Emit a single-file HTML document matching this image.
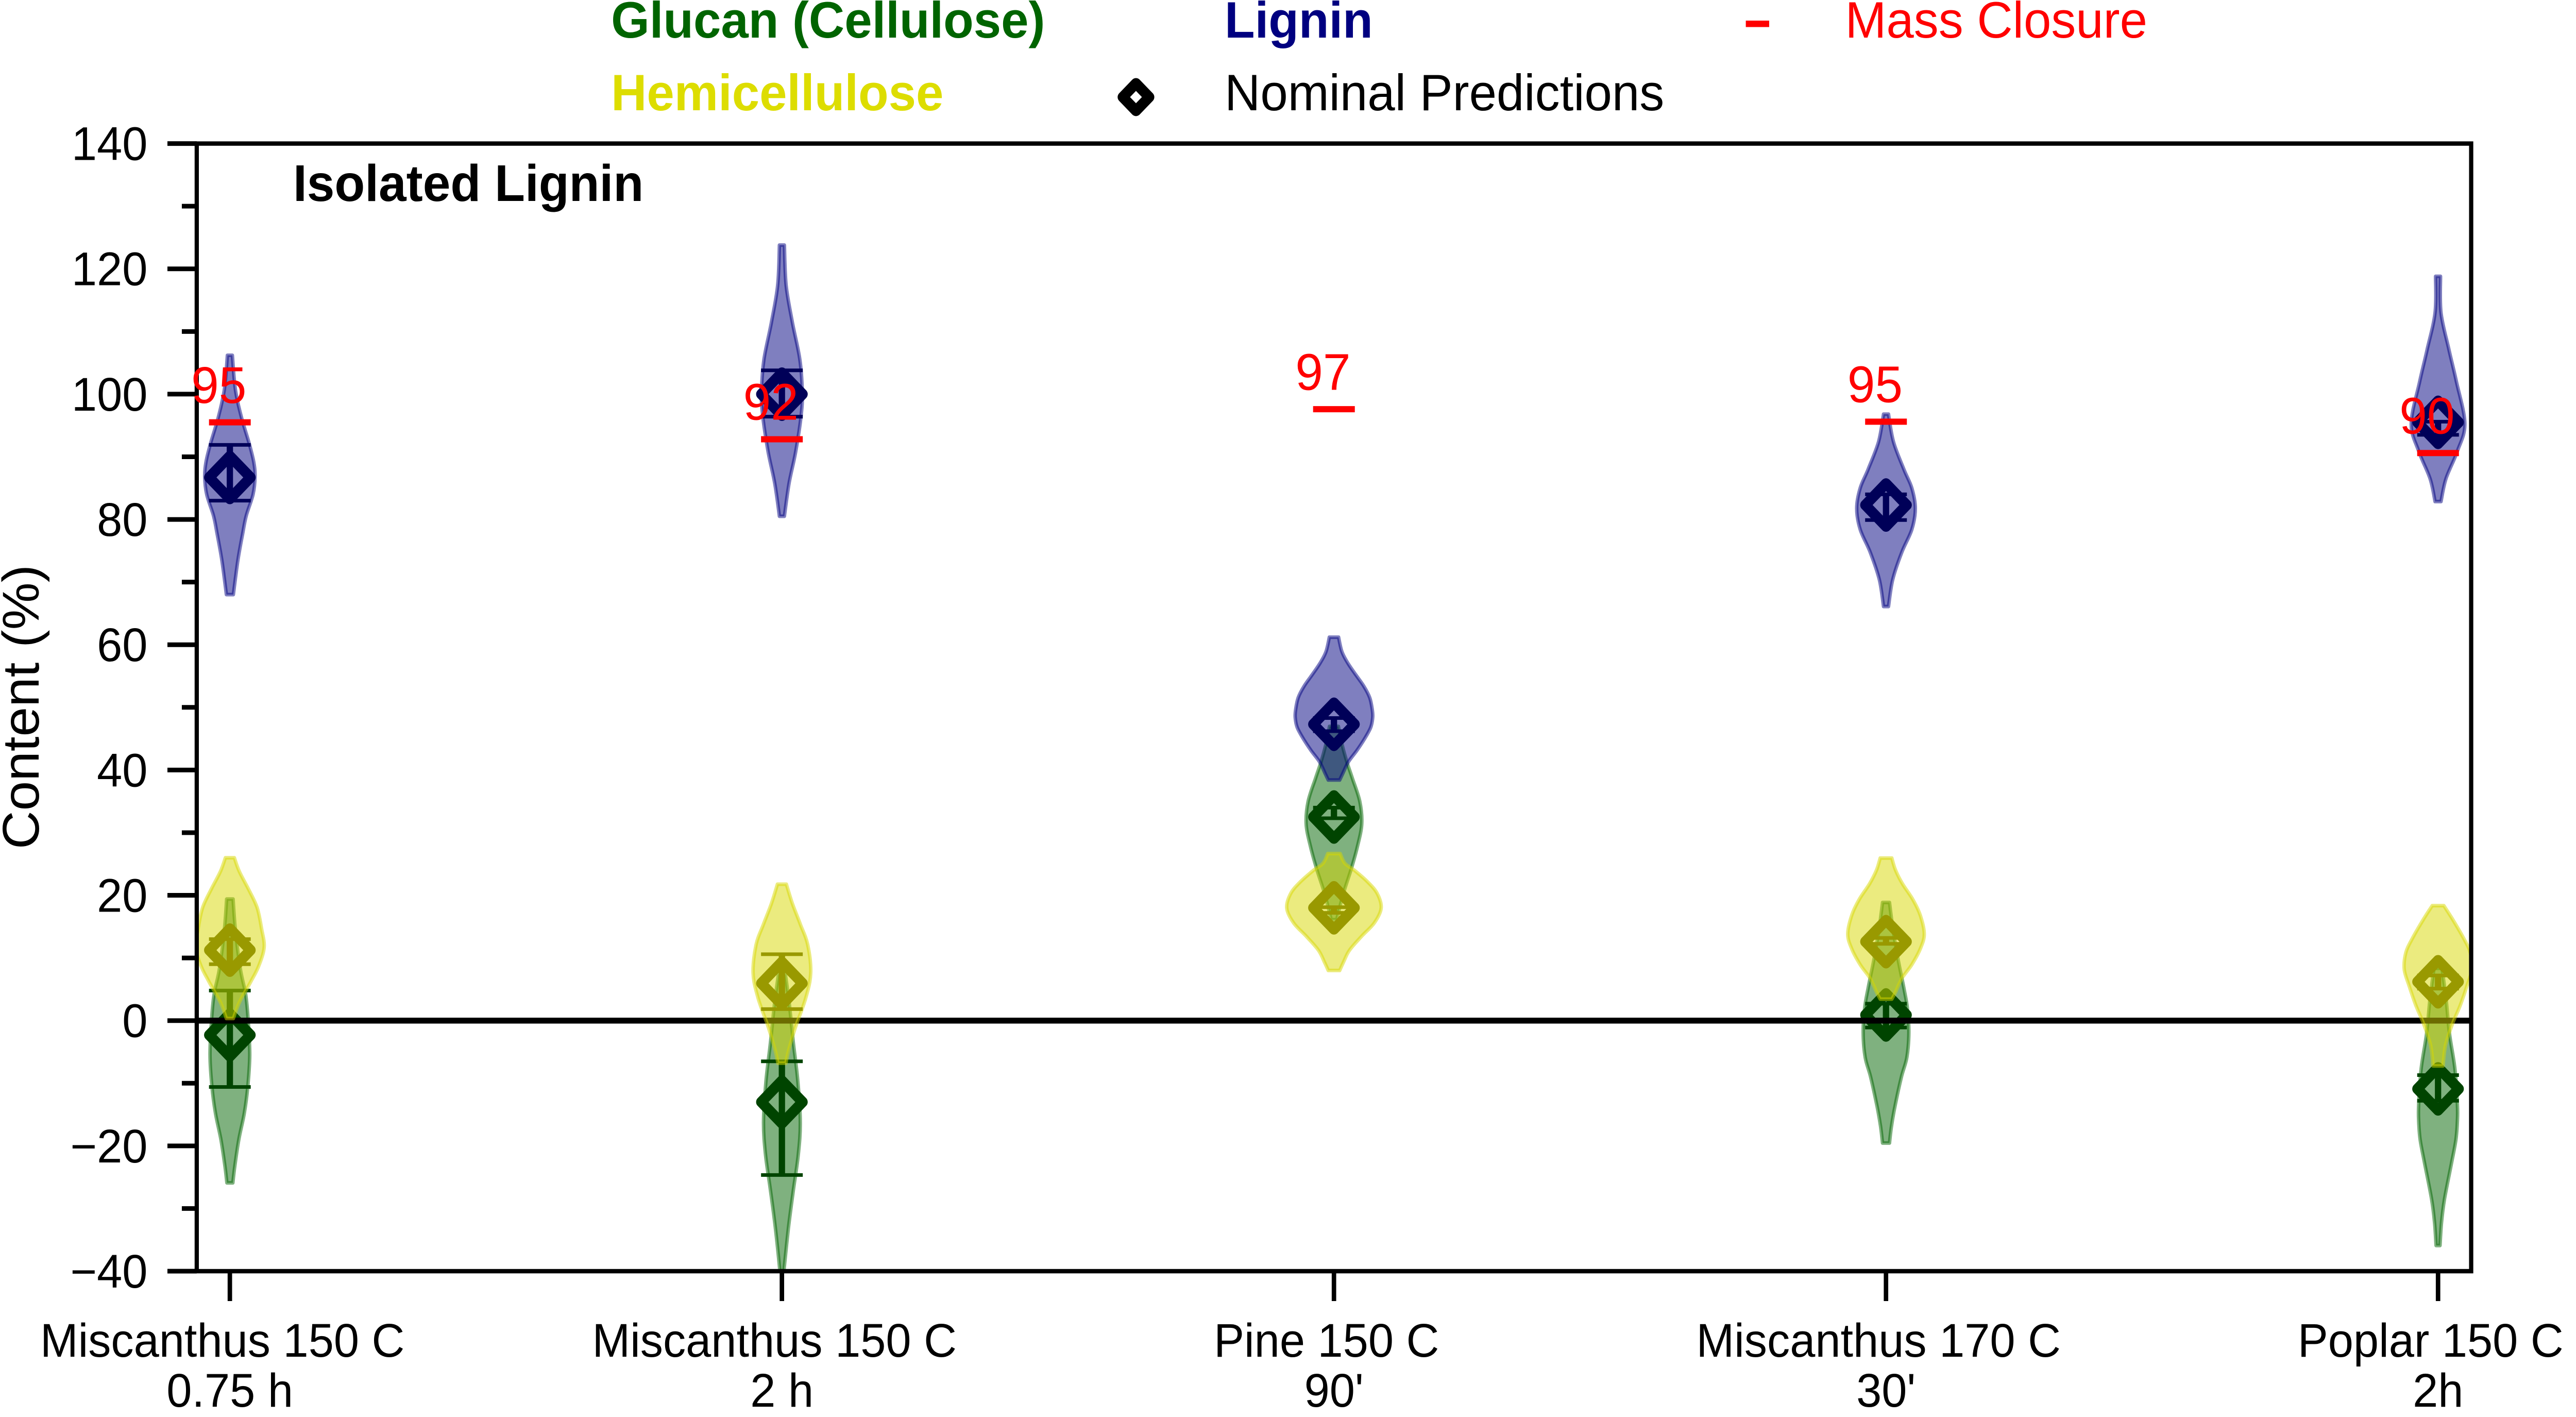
<!DOCTYPE html>
<html lang="en">
<head>
<meta charset="utf-8">
<title>Isolated Lignin content chart</title>
<style>
html,body{margin:0;padding:0;background:#fff;width:100%;height:100%;overflow:hidden;}
svg{display:block;width:100vw;height:100vh;font-family:"Liberation Sans",sans-serif;}
</style>
</head>
<body>
<svg id="chart" xmlns="http://www.w3.org/2000/svg" viewBox="0 0 5185 2750" preserveAspectRatio="none">
  <rect x="0" y="0" width="5185" height="2750" fill="#ffffff"/>
  <defs>
    <clipPath id="axes-clip"><rect x="396" y="278.6" width="4578" height="2188.4"/></clipPath>
  </defs>
  <g id="plot-under" clip-path="url(#axes-clip)"></g>
  <line id="zero-line" stroke="#000" stroke-width="11.5"/>
  <g id="plot-hemi" clip-path="url(#axes-clip)"></g>
  <g id="plot-lignin" clip-path="url(#axes-clip)"></g>
  <g id="axes"></g>
  <g id="plot-closure"></g>

  <text transform="translate(78,1372) rotate(-90)" text-anchor="middle" font-size="103.5" fill="#000">Content (%)</text>
  <text x="590" y="390" font-size="100" font-weight="bold" fill="#000">Isolated Lignin</text>

  <g>
    <text x="1230" y="73" font-size="99.5" font-weight="bold" fill="#006400">Glucan (Cellulose)</text>
    <text x="1230" y="214" font-size="99.5" font-weight="bold" fill="#dddd00">Hemicellulose</text>
    <text x="2465" y="73" font-size="99.5" font-weight="bold" fill="#000080">Lignin</text>
    <path d="M2259.9 188.4L2286.5 161.8L2313.1 188.4L2286.5 215Z" fill="none" stroke="#000" stroke-width="20.7" stroke-linejoin="round"/>
    <text x="2465" y="214" font-size="99.5" fill="#000">Nominal Predictions</text>
    <rect x="3514" y="40" width="47" height="12.5" fill="#ff0000"/>
    <text x="3714" y="73" font-size="99.5" fill="#ff0000">Mass Closure</text>
  </g>
</svg>
<script>
// ---- Chart data ----
const categoryLine1 = ["Miscanthus 150 C", "Miscanthus 150 C", "Pine 150 C", "Miscanthus 170 C", "Poplar 150 C"];
const categoryLine2 = ["0.75 h", "2 h", "90'", "30'", "2h"];
const yMajorTicks = [-40, -20, 0, 20, 40, 60, 80, 100, 120, 140];
const yMajorLabels = ["\u221240", "\u221220", "0", "20", "40", "60", "80", "100", "120", "140"];
const yMinorTicks = [-30, -10, 10, 30, 50, 70, 90, 110, 130];

const massClosure = [95.5, 92.8, 97.6, 95.6, 90.6];
const massClosureLabels = ["95", "92", "97", "95", "90"];

const ligninNominal = [86.7, 100, 47.3, 82.3, 95.5];
const ligninErrHigh = [91.9, 103.8, 48.3, 84, 95.6];
const ligninErrLow = [83, 96.4, 46.2, 79.9, 93.5];

const glucanNominal = [-2.3, -13, 32.5, 0.9, -10.9];
const glucanErrHigh = [4.8, -6.5, 34, 2.7, -8.7];
const glucanErrLow = [-10.6, -24.65, 32.3, -1.1, -12.8];

const hemiNominal = [11.25, 5.95, 18, 12.6, 6.2];
const hemiErrHigh = [13, 10.6, 18.1, 13.2, 7.2];
const hemiErrLow = [9, 1.84, 17.2, 12.25, 5.1];

// Violin outlines: sampled content values and the density read at each value.
const ligninViolinValues = [
  [106.2, 100.8, 96.4, 92.1, 89.2, 86.9, 84, 80.6, 77.7, 73.4, 68],
  [123.8, 117.4, 111.5, 105.6, 100.5, 96.8, 90.9, 85.8, 80.5],
  [61.2, 58.9, 57.06, 55.2, 53.4, 51.55, 49.7, 48.4, 46.8, 44.9, 43.1, 41.3, 39.4, 38.4],
  [96.8, 92.4, 88, 85, 81.75, 78.4, 74.8, 70.4, 66.1],
  [118.8, 113, 107.1, 102, 95.3, 90.9, 86.5, 82.85]
];
const ligninViolinDensity = [
  [5, 11, 23, 39, 48, 50.7, 46.7, 33, 25.7, 16, 7],
  [5, 8.5, 21, 36, 41, 39, 28, 14.5, 5],
  [9.3, 16, 28, 44, 60, 72, 77, 78, 74, 61, 46, 29, 17.5, 11.5],
  [5, 15, 36, 52, 59, 52, 32, 13.5, 5],
  [5, 6, 22, 37, 54, 39, 16, 6]
];
const glucanViolinValues = [
  [19.4, 14.6, 8.3, 4.1, -0.08, -5.5, -10.6, -14.8, -19, -23.2, -25.9],
  [7.4, 2.64, -3.5, -9.6, -16.2, -21.4, -27.1, -33.2, -39.6, -41],
  [46.96, 44.2, 41.3, 38.7, 35, 31.4, 27.7, 24, 20.3, 16.1],
  [18.86, 14.6, 9.9, 5.2, 2, -1.92, -5.85, -9, -13.7, -16.87, -19.55],
  [8.35, 3.62, -2.04, -7.7, -13.37, -16, -19, -22.8, -28.5, -32.26, -35.9]
];
const glucanViolinDensity = [
  [6.5, 11, 21, 32, 37, 40, 36, 29, 18, 10, 6],
  [7, 15, 23, 32, 37, 33, 23, 13, 4.5, 3],
  [9, 16, 26, 37, 52, 56, 47, 34, 19, 5.5],
  [7, 14, 24, 36, 43, 46, 42, 31, 18, 11, 7],
  [8, 16, 23, 34, 39, 39, 36, 27, 13, 7, 4]
];
const hemiViolinValues = [
  [26, 23.8, 20.9, 18, 14.6, 11.7, 8.7, 6.2, 2.9, 0.34],
  [21.77, 18.7, 15.4, 12.1, 7.6, 3.6, -1.13, -4.9, -6.8],
  [26.66, 25.1, 24, 22.2, 20.3, 17.95, 15.57, 13.4, 11.2, 9.3, 8],
  [25.94, 24.05, 21.85, 19.33, 16.8, 13.8, 11.46, 8.94, 6.74, 4.53, 3.43],
  [18.35, 16.09, 13.07, 10.8, 8.16, 5.5, 2.5, -0.53, -3.93, -7.25]
];
const hemiViolinDensity = [
  [9, 19, 38, 55, 64, 69, 58, 42, 19, 7],
  [9, 21, 37, 52, 58, 48, 27, 13, 8],
  [12.5, 22, 41, 67, 87, 95, 81, 55, 31, 19, 11.5],
  [11.7, 19, 33, 54, 69, 77, 69, 52, 32, 19, 11.7],
  [11.7, 30, 52, 65, 68, 58, 45, 29, 15, 10]
];

// ---- Axis functions ----
const SVGNS = "http://www.w3.org/2000/svg";
const plotLeft = 396, plotRight = 4974, plotTop = 278.6, plotBottom = 2467;
const xMin = -0.06, xMax = 4.06, yMin = -40, yMax = 140;
function xScale(v) { return plotLeft + (v - xMin) / (xMax - xMin) * (plotRight - plotLeft); }
function yScale(v) { return plotBottom - (v - yMin) / (yMax - yMin) * (plotBottom - plotTop); }

const capHalfWidth = 42;
const markerRadius = 41.6;

function make(tag, parent, attrs) {
  const el = document.createElementNS(SVGNS, tag);
  for (const k in attrs) el.setAttribute(k, attrs[k]);
  parent.appendChild(el);
  return el;
}

// Smooth curve (Catmull-Rom) through a list of points, continuing an open path.
function smoothSegments(pts) {
  let d = "";
  for (let i = 0; i < pts.length - 1; i++) {
    const p0 = pts[Math.max(i - 1, 0)], p1 = pts[i], p2 = pts[i + 1], p3 = pts[Math.min(i + 2, pts.length - 1)];
    const c1x = p1[0] + (p2[0] - p0[0]) / 6, c1y = p1[1] + (p2[1] - p0[1]) / 6;
    const c2x = p2[0] - (p3[0] - p1[0]) / 6, c2y = p2[1] - (p3[1] - p1[1]) / 6;
    d += "C" + c1x.toFixed(1) + " " + c1y.toFixed(1) + " " + c2x.toFixed(1) + " " + c2y.toFixed(1) + " " + p2[0].toFixed(1) + " " + p2[1].toFixed(1);
  }
  return d;
}

function violinPath(cat, values, density) {
  const cx = xScale(cat);
  const right = values.map(function (v, i) { return [cx + density[i], yScale(v)]; });
  const left = values.map(function (v, i) { return [cx - density[i], yScale(v)]; }).reverse();
  return "M" + left[left.length - 1][0].toFixed(1) + " " + left[left.length - 1][1].toFixed(1) +
    "L" + right[0][0].toFixed(1) + " " + right[0][1].toFixed(1) + smoothSegments(right) +
    "L" + left[0][0].toFixed(1) + " " + left[0][1].toFixed(1) + smoothSegments(left) + "Z";
}

function drawSeries(group, seriesName, fillColor, markColor, violinValues, violinDensity, nominal, errHigh, errLow) {
  categoryLine1.forEach(function (_, i) {
    const cx = xScale(i);
    const violin = make("path", group, {
      d: violinPath(i, violinValues[i], violinDensity[i]),
      fill: fillColor, "fill-opacity": 0.5, stroke: fillColor, "stroke-opacity": 0.5,
      "stroke-width": 7, "stroke-linejoin": "round"
    });
    
    

    const stem = make("line", group, {
      x1: cx, x2: cx, y1: yScale(errHigh[i]), y2: yScale(errLow[i]), stroke: markColor, "stroke-width": 12.7
    });
    
    

    [errHigh[i], errLow[i]].forEach(function (v) {
      const cap = make("line", group, {
        x1: cx - capHalfWidth, x2: cx + capHalfWidth, y1: yScale(v), y2: yScale(v), stroke: markColor, "stroke-width": 7
      });
      
      
    });

    const my = yScale(nominal[i]), r = markerRadius;
    const marker = make("path", group, {
      d: "M" + (cx - r) + " " + my + "L" + cx + " " + (my - r) + "L" + (cx + r) + " " + my + "L" + cx + " " + (my + r) + "Z",
      fill: "none", stroke: markColor, "stroke-width": 20.7, "stroke-linejoin": "round"
    });
    
    
  });
}

drawSeries(document.getElementById("plot-under"), "glucan", "#006400", "#004400", glucanViolinValues, glucanViolinDensity, glucanNominal, glucanErrHigh, glucanErrLow);
drawSeries(document.getElementById("plot-hemi"), "hemicellulose", "#d8d800", "#999900", hemiViolinValues, hemiViolinDensity, hemiNominal, hemiErrHigh, hemiErrLow);
drawSeries(document.getElementById("plot-lignin"), "lignin", "#000080", "#000058", ligninViolinValues, ligninViolinDensity, ligninNominal, ligninErrHigh, ligninErrLow);

// Zero reference line
const zeroLine = document.getElementById("zero-line");
zeroLine.setAttribute("x1", plotLeft);
zeroLine.setAttribute("x2", plotRight);
zeroLine.setAttribute("y1", yScale(0));
zeroLine.setAttribute("y2", yScale(0));

// Axes: spines, ticks, tick labels
const axes = document.getElementById("axes");
const frame = make("rect", axes, {
  x: plotLeft, y: plotTop, width: plotRight - plotLeft, height: plotBottom - plotTop,
  fill: "none", stroke: "#000", "stroke-width": 8.5
});



yMajorTicks.forEach(function (v, i) {
  const tick = make("line", axes, { x1: 337, x2: plotLeft, y1: yScale(v), y2: yScale(v), stroke: "#000", "stroke-width": 9 });
  
  
  const label = make("text", axes, { x: 297, y: yScale(v) + 32, "text-anchor": "end", "font-size": 91.67, fill: "#000" });
  label.textContent = yMajorLabels[i];
  
  
});
yMinorTicks.forEach(function (v) {
  const tick = make("line", axes, { x1: 366, x2: plotLeft, y1: yScale(v), y2: yScale(v), stroke: "#000", "stroke-width": 9 });
  
  
});
categoryLine1.forEach(function (name, i) {
  const cx = xScale(i);
  const tick = make("line", axes, { x1: cx, x2: cx, y1: plotBottom, y2: 2525, stroke: "#000", "stroke-width": 9 });
  
  
  const label1 = make("text", axes, { x: cx - 15, y: 2633, "text-anchor": "middle", "font-size": 91.67, fill: "#000" });
  label1.textContent = name;
  
  
  const label2 = make("text", axes, { x: cx, y: 2730, "text-anchor": "middle", "font-size": 91.67, fill: "#000" });
  label2.textContent = categoryLine2[i];
  
  
});

// Mass closure dashes and their printed values
const closureGroup = document.getElementById("plot-closure");
massClosure.forEach(function (v, i) {
  const cx = xScale(i);
  const dash = make("line", closureGroup, {
    x1: cx - capHalfWidth, x2: cx + capHalfWidth, y1: yScale(v), y2: yScale(v), stroke: "#ff0000", "stroke-width": 12
  });
  
  
  const label = make("text", closureGroup, {
    x: xScale(i - 0.07), y: yScale(v + 3.1), "font-size": 100, fill: "#ff0000"
  });
  label.textContent = massClosureLabels[i];
  
  
});
</script>
</body>
</html>
